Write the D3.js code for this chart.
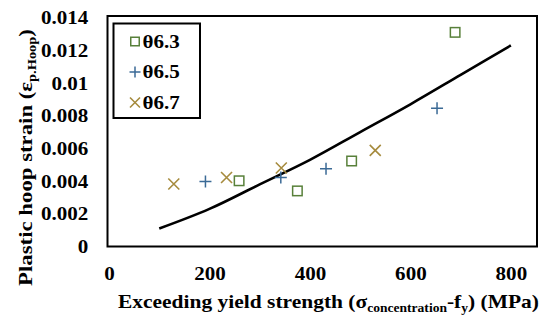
<!DOCTYPE html>
<html>
<head>
<meta charset="utf-8">
<script src="https://cdn.jsdelivr.net/npm/d3@7"></script>
<style>
  html, body { margin: 0; padding: 0; background: #fff; }
  svg { display: block; }
  svg text { font-family: "Liberation Serif", "DejaVu Serif", serif !important; font-weight: 700; fill: #000; }
</style>
</head>
<body>
<svg id="chart" width="539" height="322"></svg>
<script>
// Measured points for each inclination angle (x: MPa, y: plastic hoop strain)
const series63X = [259, 375, 483, 689];
const series63Y = [0.00402, 0.00340, 0.00523, 0.01310];
const series65X = [192, 342, 432, 653];
const series65Y = [0.00398, 0.00422, 0.00476, 0.00846];
const series67X = [129, 234, 343, 530];
const series67Y = [0.00382, 0.00422, 0.00480, 0.00588];

// Fitted trend curve
const fitX = [100, 200, 300, 400, 500, 600, 700, 800];
const fitY = [0.0011, 0.0023, 0.0038, 0.0053, 0.0070, 0.0087, 0.0105, 0.0123];

const xTicks = [0, 200, 400, 600, 800];
const yTicks = [0, 0.002, 0.004, 0.006, 0.008, 0.01, 0.012, 0.014];
const legendLabels = ["θ6.3", "θ6.5", "θ6.7"];

const colors = { sq: "#58803a", plus: "#3b6a96", cross: "#a68b3e" };
const SX = 1.17; // horizontal text widening
const FONT = "Liberation Serif";

const svg = d3.select("#chart");
const frame = { left: 107.5, right: 537, top: 16, bottom: 246.5 };

const x = d3.scaleLinear().domain([0, 850]).range([109, 536]);
const y = d3.scaleLinear().domain([0, 0.0141]).range([246.5, 16]);

// Plot frame
svg.append("rect")
  .attr("x", frame.left).attr("y", frame.top)
  .attr("width", frame.right - frame.left)
  .attr("height", frame.bottom - frame.top)
  .attr("fill", "none").attr("stroke", "#000").attr("stroke-width", 2);

// X axis labels
const xAxis = svg.append("g")
  .attr("transform", `translate(0,${frame.bottom})`)
  .call(d3.axisBottom(x).tickValues(xTicks).tickSize(0).tickPadding(0).tickFormat(d3.format("d")));
xAxis.select(".domain").remove();
xAxis.attr("font-family", FONT).attr("font-size", 18);
xAxis.selectAll("text")
  .attr("y", 0).attr("dy", null)
  .attr("transform", `translate(0,33.5) scale(${SX},1)`);

// Y axis labels
const yAxis = svg.append("g")
  .attr("transform", `translate(${frame.left},0)`)
  .call(d3.axisLeft(y).tickValues(yTicks).tickSize(0).tickPadding(0)
    .tickFormat(d => d === 0 ? "0" : String(+d.toFixed(3))));
yAxis.select(".domain").remove();
yAxis.attr("font-family", FONT).attr("font-size", 18);
yAxis.selectAll("text")
  .attr("x", 0).attr("dy", "0.34em")
  .attr("transform", `translate(-19.2,0) scale(${SX},1)`);

// Trend curve
const line = d3.line().x((d, i) => x(fitX[i])).y((d, i) => y(fitY[i])).curve(d3.curveMonotoneX);
svg.append("path").datum(fitY)
  .attr("d", line)
  .attr("fill", "none").attr("stroke", "#000").attr("stroke-width", 2.6);

// Marker drawers
function square(g, cx, cy, s) {
  g.append("rect").attr("x", cx - s / 2).attr("y", cy - s / 2)
    .attr("width", s).attr("height", s)
    .attr("fill", "none").attr("stroke", colors.sq).attr("stroke-width", 1.5);
}
function plus(g, cx, cy, s) {
  g.append("path").attr("d", `M${cx - s / 2},${cy}H${cx + s / 2}M${cx},${cy - s / 2}V${cy + s / 2}`)
    .attr("stroke", colors.plus).attr("stroke-width", 1.5).attr("fill", "none");
}
function cross(g, cx, cy, s) {
  const h = s / 2;
  g.append("path").attr("d", `M${cx - h},${cy - h}L${cx + h},${cy + h}M${cx - h},${cy + h}L${cx + h},${cy - h}`)
    .attr("stroke", colors.cross).attr("stroke-width", 1.6).attr("fill", "none");
}

const pts = svg.append("g");
series63X.forEach((v, i) => square(pts, x(v), y(series63Y[i]), 9.5));
series65X.forEach((v, i) => plus(pts, x(v), y(series65Y[i]), 12));
series67X.forEach((v, i) => cross(pts, x(v), y(series67Y[i]), 11));

// Legend
const lg = svg.append("g");
lg.append("rect").attr("x", 113.5).attr("y", 23.5).attr("width", 86.5).attr("height", 94.5)
  .attr("fill", "#fff").attr("stroke", "#000").attr("stroke-width", 2);
const drawers = [square, plus, cross];
const sizes = [8.5, 11, 10];
legendLabels.forEach((lab, i) => {
  const cy = 41.5 + i * 30.5;
  drawers[i](lg, 135, cy, sizes[i]);
  lg.append("text")
    .attr("transform", `translate(142.5,${cy + 6}) scale(${SX},1)`)
    .attr("font-size", 18)
    .text(lab);
});

// X axis title with subscripts
const xt = svg.append("text")
  .attr("transform", `translate(118,307.5) scale(1.13,1)`)
  .attr("font-size", 19);
xt.append("tspan").text("Exceeding yield strength (σ");
xt.append("tspan").attr("dy", 4).attr("font-size", 12).text("concentration");
xt.append("tspan").attr("dy", -4).text("-f");
xt.append("tspan").attr("dy", 4).attr("font-size", 12).text("y");
xt.append("tspan").attr("dy", -4).text(") (MPa)");

// Y axis title with subscript
const yt = svg.append("text")
  .attr("transform", `translate(32,157.5) rotate(-90) scale(1.2,1)`)
  .attr("text-anchor", "middle")
  .attr("font-size", 19);
yt.append("tspan").text("Plastic hoop strain (ε");
yt.append("tspan").attr("dy", 4).attr("font-size", 12).text("p.Hoop");
yt.append("tspan").attr("dy", -4).text(")");
</script>
</body>
</html>
